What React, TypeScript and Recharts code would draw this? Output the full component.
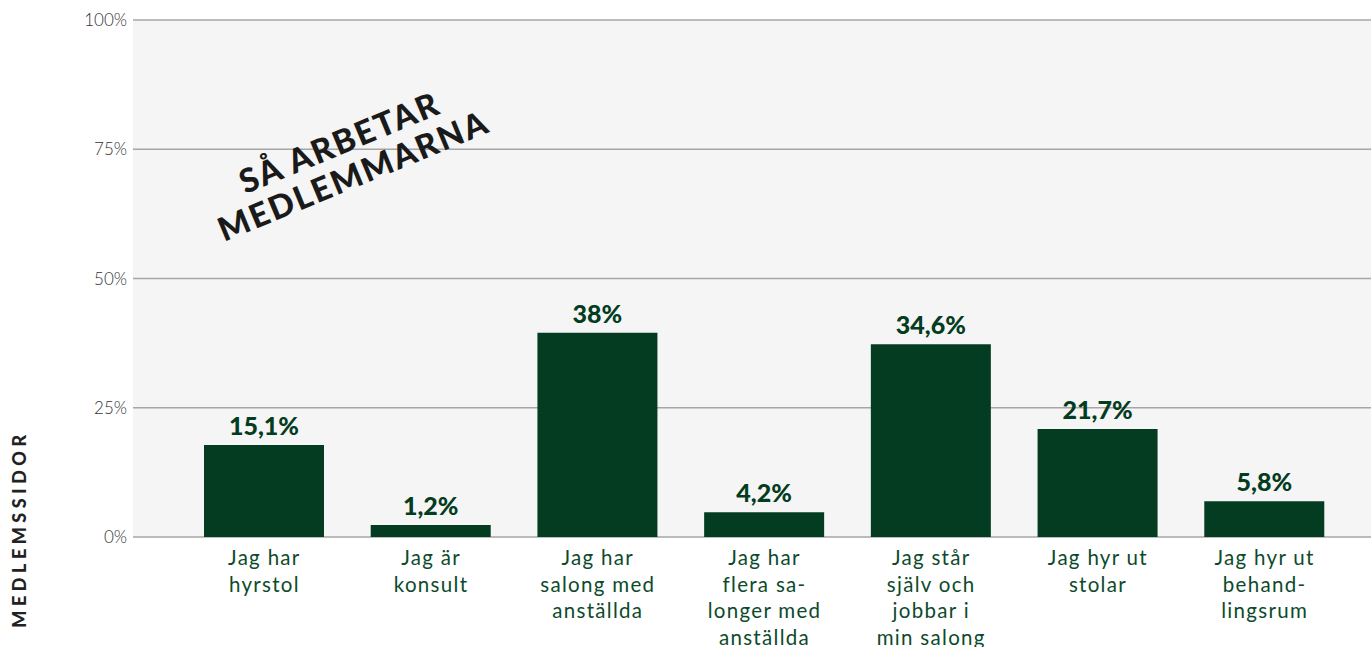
import React from "react";
import { BarChart, Bar, XAxis, YAxis, CartesianGrid, LabelList } from "recharts";

const categories = [
  "Jag har hyrstol",
  "Jag är konsult",
  "Jag har salong med anställda",
  "Jag har flera salonger med anställda",
  "Jag står själv och jobbar i min salong",
  "Jag hyr ut stolar",
  "Jag hyr ut behandlingsrum",
];
const categoryLines = [
  ["Jag har", "hyrstol"],
  ["Jag är", "konsult"],
  ["Jag har", "salong med", "anställda"],
  ["Jag har", "flera sa-", "longer med", "anställda"],
  ["Jag står", "själv och", "jobbar i", "min salong"],
  ["Jag hyr ut", "stolar"],
  ["Jag hyr ut", "behand-", "lingsrum"],
];
// bar heights as drawn in the picture (percent of axis)
const barValues = [17.8, 2.3, 39.5, 4.8, 37.3, 20.9, 6.9];
// printed value labels
const valueLabels = ["15,1%", "1,2%", "38%", "4,2%", "34,6%", "21,7%", "5,8%"];
const yTicks = [0, 25, 50, 75, 100];

const data = categories.map((name, i) => ({
  name,
  value: barValues[i],
  label: valueLabels[i],
}));

const GREEN = "#033c20";
const TEXT_GREEN = "#0d4a2c";

const XTick = (props: any) => {
  const { x, y, payload } = props;
  const idx = categories.indexOf(payload.value);
  const lines = categoryLines[idx] || [payload.value];
  return (
    <text
      x={x}
      y={y}
      textAnchor="middle"
      fill={TEXT_GREEN}
      fontFamily="Lato, sans-serif"
      fontSize={20.5}
      letterSpacing={1.3}
    >
      {lines.map((l, i) => (
        <tspan key={i} x={x} dy={i === 0 ? 20 : 26.5}>
          {l}
        </tspan>
      ))}
    </text>
  );
};

export default function App() {
  return (
    <div style={{ position: "absolute", left: 0, top: 0, width: 1371, height: 647, background: "#fff" }}>
      <BarChart
        width={1371}
        height={647}
        data={data}
        margin={{ top: 20, right: 0, bottom: 0, left: 0 }}
        barSize={120}
      >
        <CartesianGrid
          vertical={false}
          fill="#f5f5f5"
          stroke="#a6a6a6"
          strokeWidth={1.3}
        />
        <XAxis
          dataKey="name"
          axisLine={false}
          tickLine={false}
          height={110}
          interval={0}
          padding={{ left: 48, right: 23 }}
          tick={<XTick />}
        />
        <YAxis
          width={133}
          domain={[0, 100]}
          ticks={yTicks}
          axisLine={false}
          tickLine={false}
          tickSize={0}
          tickMargin={6}
          tickFormatter={(v: number) => `${v}%`}
          tick={{ fill: "#333", fontSize: 17, fontFamily: "Lato, sans-serif", fontWeight: 300 }}
        />
        <Bar dataKey="value" fill={GREEN} isAnimationActive={false}>
          <LabelList
            dataKey="label"
            position="top"
            offset={10}
            fill={GREEN}
            fontSize={25}
            fontWeight={900}
            fontFamily="Lato, sans-serif"
          />
        </Bar>
      </BarChart>
      <div
        style={{
          position: "absolute",
          left: 346,
          top: 158,
          transform: "translate(-50%, -50%) rotate(-22.5deg)",
          fontFamily: "Lato, sans-serif",
          fontWeight: 900,
          fontSize: 33,
          lineHeight: "36px",
          letterSpacing: 2,
          color: "#1a1a1a",
          textAlign: "center",
          whiteSpace: "nowrap",
        }}
      >
        <div>SÅ ARBETAR</div>
        <div>MEDLEMMARNA</div>
      </div>
      <div
        style={{
          position: "absolute",
          left: 19,
          top: 529,
          transform: "translate(-50%, -50%) rotate(-90deg)",
          fontFamily: "Lato, sans-serif",
          fontWeight: 900,
          fontSize: 18,
          letterSpacing: 4.5,
          color: "#222",
          whiteSpace: "nowrap",
        }}
      >
        MEDLEMSSIDOR
      </div>
    </div>
  );
}
